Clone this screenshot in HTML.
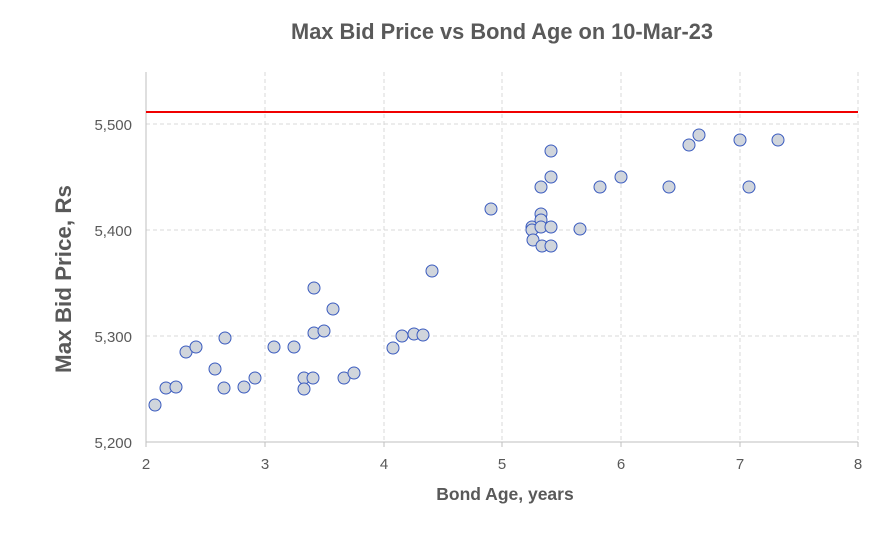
<!DOCTYPE html>
<html><head><meta charset="utf-8"><style>body{margin:0;background:#fff}</style></head><body>
<svg width="886" height="531" xmlns="http://www.w3.org/2000/svg" font-family="Liberation Sans, sans-serif">
<rect width="886" height="531" fill="#fff"/>
<text x="502" y="39" text-anchor="middle" font-size="21.8" font-weight="bold" fill="#595959">Max Bid Price vs Bond Age on 10-Mar-23</text>
<g stroke="#d9d9d9" stroke-dasharray="4,3" stroke-width="1">
<line x1="146" y1="124" x2="858" y2="124"/><line x1="146" y1="230" x2="858" y2="230"/><line x1="146" y1="336" x2="858" y2="336"/>
<line x1="265" y1="72" x2="265" y2="442"/><line x1="384" y1="72" x2="384" y2="442"/><line x1="502" y1="72" x2="502" y2="442"/><line x1="621" y1="72" x2="621" y2="442"/><line x1="740" y1="72" x2="740" y2="442"/><line x1="858" y1="72" x2="858" y2="442"/>
</g>
<line x1="146" y1="72" x2="146" y2="442" stroke="#bfbfbf"/>
<line x1="146" y1="442" x2="858" y2="442" stroke="#bfbfbf"/>
<g stroke="#bfbfbf"><line x1="146" y1="442" x2="146" y2="447"/><line x1="265" y1="442" x2="265" y2="447"/><line x1="384" y1="442" x2="384" y2="447"/><line x1="502" y1="442" x2="502" y2="447"/><line x1="621" y1="442" x2="621" y2="447"/><line x1="740" y1="442" x2="740" y2="447"/><line x1="858" y1="442" x2="858" y2="447"/></g>
<line x1="146" y1="112" x2="858" y2="112" stroke="#f00000" stroke-width="2"/>
<g font-size="15" fill="#595959" text-anchor="end">
<text x="132" y="130">5,500</text><text x="132" y="236">5,400</text><text x="132" y="342">5,300</text><text x="132" y="448">5,200</text></g>
<g font-size="15" fill="#595959" text-anchor="middle">
<text x="146" y="469">2</text><text x="265" y="469">3</text><text x="384" y="469">4</text><text x="502" y="469">5</text><text x="621" y="469">6</text><text x="740" y="469">7</text><text x="858" y="469">8</text></g>
<text x="505" y="500" text-anchor="middle" font-size="17.5" font-weight="bold" fill="#595959">Bond Age, years</text>
<text transform="translate(71,279) rotate(-90)" text-anchor="middle" font-size="22.4" font-weight="bold" fill="#595959">Max Bid Price, Rs</text>
<g fill="#d0d5dc" stroke="#3a5bbf" stroke-width="1">
<circle cx="155" cy="405" r="6"/><circle cx="166" cy="388" r="6"/><circle cx="176" cy="387" r="6"/><circle cx="186" cy="352" r="6"/><circle cx="196" cy="347" r="6"/><circle cx="215" cy="369" r="6"/><circle cx="224" cy="388" r="6"/><circle cx="225" cy="338" r="6"/><circle cx="244" cy="387" r="6"/><circle cx="255" cy="378" r="6"/><circle cx="274" cy="347" r="6"/><circle cx="294" cy="347" r="6"/><circle cx="304" cy="378" r="6"/><circle cx="304" cy="389" r="6"/><circle cx="313" cy="378" r="6"/><circle cx="314" cy="288" r="6"/><circle cx="314" cy="333" r="6"/><circle cx="324" cy="331" r="6"/><circle cx="333" cy="309" r="6"/><circle cx="344" cy="378" r="6"/><circle cx="354" cy="373" r="6"/><circle cx="393" cy="348" r="6"/><circle cx="402" cy="336" r="6"/><circle cx="414" cy="334" r="6"/><circle cx="423" cy="335" r="6"/><circle cx="432" cy="271" r="6"/><circle cx="491" cy="209" r="6"/><circle cx="532" cy="227" r="6"/><circle cx="532" cy="230" r="6"/><circle cx="533" cy="240" r="6"/><circle cx="541" cy="187" r="6"/><circle cx="541" cy="214" r="6"/><circle cx="541" cy="220" r="6"/><circle cx="541" cy="227" r="6"/><circle cx="542" cy="246" r="6"/><circle cx="551" cy="151" r="6"/><circle cx="551" cy="177" r="6"/><circle cx="551" cy="227" r="6"/><circle cx="551" cy="246" r="6"/><circle cx="580" cy="229" r="6"/><circle cx="600" cy="187" r="6"/><circle cx="621" cy="177" r="6"/><circle cx="669" cy="187" r="6"/><circle cx="689" cy="145" r="6"/><circle cx="699" cy="135" r="6"/><circle cx="740" cy="140" r="6"/><circle cx="749" cy="187" r="6"/><circle cx="778" cy="140" r="6"/>
</g>
</svg>
</body></html>
